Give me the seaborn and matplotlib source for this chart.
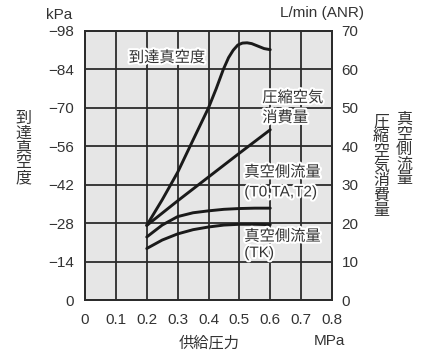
import numpy as np
import pandas as pd
import matplotlib
matplotlib.use("Agg")
import matplotlib.pyplot as plt
import matplotlib.patheffects as pe
import seaborn as sns

# supply pressure (MPa) and curves
vac_pressure = [0.20, 0.25, 0.30, 0.35, 0.40, 0.425, 0.448, 0.465,
                0.48, 0.495, 0.51, 0.525, 0.54, 0.56, 0.58, 0.60]
vacuum_kpa = [-27.2, -36.5, -46.5, -58.3, -70.0, -77.0, -84.0, -88.3,
              -91.0, -92.9, -93.6, -93.7, -93.4, -92.5, -91.6, -91.2]

air_pressure = [0.2, 0.3, 0.4, 0.5, 0.6]
air_consumption = [19.4, 25.8, 32.0, 38.2, 44.3]

flow_pressure = [0.20, 0.25, 0.30, 0.35, 0.40, 0.45, 0.50, 0.55, 0.60]
flow_t0 = [16.4, 19.5, 21.7, 22.7, 23.2, 23.6, 23.8, 23.9, 23.9]
flow_tk = [13.4, 15.6, 17.2, 18.3, 19.0, 19.5, 19.7, 19.7, 19.6]

x_ticks = [0, 0.1, 0.2, 0.3, 0.4, 0.5, 0.6, 0.7, 0.8]
x_tick_labels = ["0", "0.1", "0.2", "0.3", "0.4", "0.5", "0.6", "0.7", "0.8"]
kpa_ticks = [0, -14, -28, -42, -56, -70, -84, -98]
lmin_ticks = [0, 10, 20, 30, 40, 50, 60, 70]

sns.set_style("white")
plt.rcParams["font.family"] = ["Liberation Sans", "Noto Sans CJK JP"]

txt = "#333333"
line_c = "#1a1a1a"
grid_c = "#2b2b2b"
halo = [pe.withStroke(linewidth=3, foreground="white")]

fig = plt.figure(figsize=(4.21, 3.6), dpi=100)
ax = fig.add_axes([85 / 421, 60 / 360, 247 / 421, 269 / 360])
ax.set_facecolor("#e6e6e6")
ax2 = ax.twinx()

vac_df = pd.DataFrame({"p": vac_pressure, "v": vacuum_kpa})
sns.lineplot(data=vac_df, x="p", y="v", ax=ax, color=line_c, lw=2.1, sort=False, zorder=5)

air_df = pd.DataFrame({"p": air_pressure, "q": air_consumption})
sns.lineplot(data=air_df, x="p", y="q", ax=ax2, color=line_c, lw=2.1, zorder=5)
t0_df = pd.DataFrame({"p": flow_pressure, "q": flow_t0})
sns.lineplot(data=t0_df, x="p", y="q", ax=ax2, color=line_c, lw=2.1, zorder=5)
tk_df = pd.DataFrame({"p": flow_pressure, "q": flow_tk})
sns.lineplot(data=tk_df, x="p", y="q", ax=ax2, color=line_c, lw=2.1, zorder=5)

ax.set_xlim(0, 0.8)
ax.set_ylim(0, -98)
ax2.set_ylim(0, 70)
ax.set_xticks(x_ticks)
ax.set_xticklabels(x_tick_labels)
ax.set_yticks(kpa_ticks)
ax.set_yticklabels([("\u2212" + str(-t)) if t else "0" for t in kpa_ticks])
ax2.set_yticks(lmin_ticks)
ax.grid(True, color=grid_c, lw=1.3)
ax.set_axisbelow(True)
for a in (ax, ax2):
    for s in a.spines.values():
        s.set_color(grid_c)
        s.set_linewidth(1.3)
    a.tick_params(length=0, labelsize=11, colors=txt)
ax.tick_params(axis="x", pad=9)
ax.tick_params(axis="y", pad=8)
ax2.tick_params(axis="y", pad=7)
ax.set_xlabel("")
ax.set_ylabel("")
ax2.set_ylabel("")

# curve labels
lab = dict(fontsize=11, color=txt, ha="left", va="center", path_effects=halo, zorder=6)
ax.text(0.142, -88.2, "到達真空度", **lab)
ax2.text(0.574, 52.6, "圧縮空気", **lab)
ax2.text(0.574, 47.4, "消費量", **lab)
ax2.text(0.516, 33.2, "真空側流量", **lab)
ax2.text(0.516, 28.0, "(T0,TA,T2)", **lab)
ax2.text(0.516, 16.5, "真空側流量", **lab)
ax2.text(0.516, 12.2, "(TK)", **lab)

# axis titles
fig.text(59 / 421, 1 - 15 / 360, "kPa", fontsize=11, color=txt, ha="center", va="center")
fig.text(322 / 421, 1 - 13 / 360, "L/min (ANR)", fontsize=11, color=txt, ha="center", va="center")
fig.text(329 / 421, 1 - 341 / 360, "MPa", fontsize=11, color=txt, ha="center", va="center")
fig.text(209 / 421, 1 - 343 / 360, "供給圧力", fontsize=11, color=txt, ha="center", va="center")
fig.text(23 / 421, 1 - 148 / 360, "\n".join("到達真空度"), fontsize=11.5, color=txt,
         ha="center", va="center", linespacing=1.0)
fig.text(381 / 421, 1 - 166 / 360, "\n".join("圧縮空気消費量"), fontsize=11.5, color=txt,
         ha="center", va="center", linespacing=0.98)
fig.text(404 / 421, 1 - 149 / 360, "\n".join("真空側流量"), fontsize=11.5, color=txt,
         ha="center", va="center", linespacing=1.0)

fig.savefig("out.png", dpi=100)
